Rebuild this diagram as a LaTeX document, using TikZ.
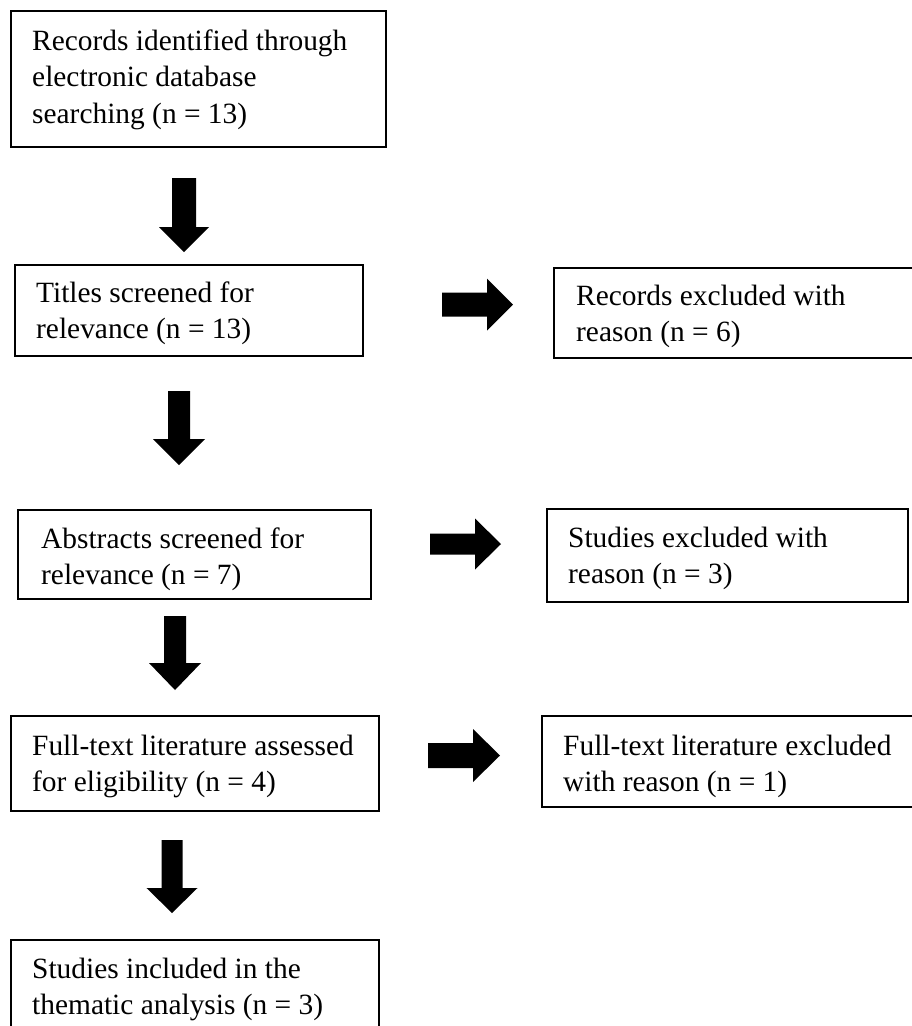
\documentclass[tikz,border=0pt]{standalone}
\usepackage{fontspec}
\setmainfont{Liberation Serif}
\begin{document}
\begin{tikzpicture}[x=1pt,y=-1pt,
  box/.style={draw=black, line width=2pt},
  txt/.style={anchor=base west, inner sep=0pt, align=flush left, text width=400pt,
    font=\fontsize{29.4pt}{36.5pt}\selectfont},
  blk/.style={fill=black}]
\useasboundingbox[fill=white] (0,0) rectangle (911,1026);
% boxes
\draw[box] (11,11) rectangle (386,147);
\draw[box] (15,265) rectangle (363,356);
\draw[box] (18,510) rectangle (371,599);
\draw[box] (11,716) rectangle (379,811);
\draw[box] (11,940) rectangle (379,1040);
\draw[box] (554,268) rectangle (930,358);
\draw[box] (547,509) rectangle (908,602);
\draw[box] (542,716) rectangle (930,807);
% texts
\node[txt] (t1) at (32,50) {Records identified through\\electronic database\\searching (n = 13)};
\node[txt] (t2) at (36,302) {Titles screened for\\relevance (n = 13)};
\node[txt] (t3) at (41,548) {Abstracts screened for\\relevance (n = 7)};
\node[txt] (t4) at (32,755) {Full-text literature assessed\\for eligibility (n = 4)};
\node[txt] (t5) at (32,978) {Studies included in the\\thematic analysis (n = 3)};
\node[txt] (r1) at (576,305) {Records excluded with\\reason (n = 6)};
\node[txt] (r2) at (568,547) {Studies excluded with\\reason (n = 3)};
\node[txt] (r3) at (563,755) {Full-text literature excluded\\with reason (n = 1)};
% down arrows: center, top, neck, tip, shaft half, head half
\newcommand{\blkdn}[6]{\fill[blk] ({#1-#5},#2) -- ({#1+#5},#2) -- ({#1+#5},#3) -- ({#1+#6},#3) -- (#1,#4) -- ({#1-#6},#3) -- ({#1-#5},#3) -- cycle;}
% right arrows: center y, tail, neck, tip, shaft half, head half
\newcommand{\blkrt}[6]{\fill[blk] (#2,{#1-#5}) -- (#3,{#1-#5}) -- (#3,{#1-#6}) -- (#4,#1) -- (#3,{#1+#6}) -- (#3,{#1+#5}) -- (#2,{#1+#5}) -- cycle;}
\blkdn{184}{178}{227}{252}{12}{25}
\blkdn{179}{391}{439}{465}{11}{26}
\blkdn{175}{616}{663}{690}{11}{26}
\blkdn{172}{840}{888}{913}{10.5}{25.5}
\blkrt{304.5}{442}{487}{513}{12}{26}
\blkrt{544}{430}{475}{501}{10.5}{25.5}
\blkrt{755.5}{428}{473}{500}{12.5}{26.5}
\end{tikzpicture}
\end{document}
